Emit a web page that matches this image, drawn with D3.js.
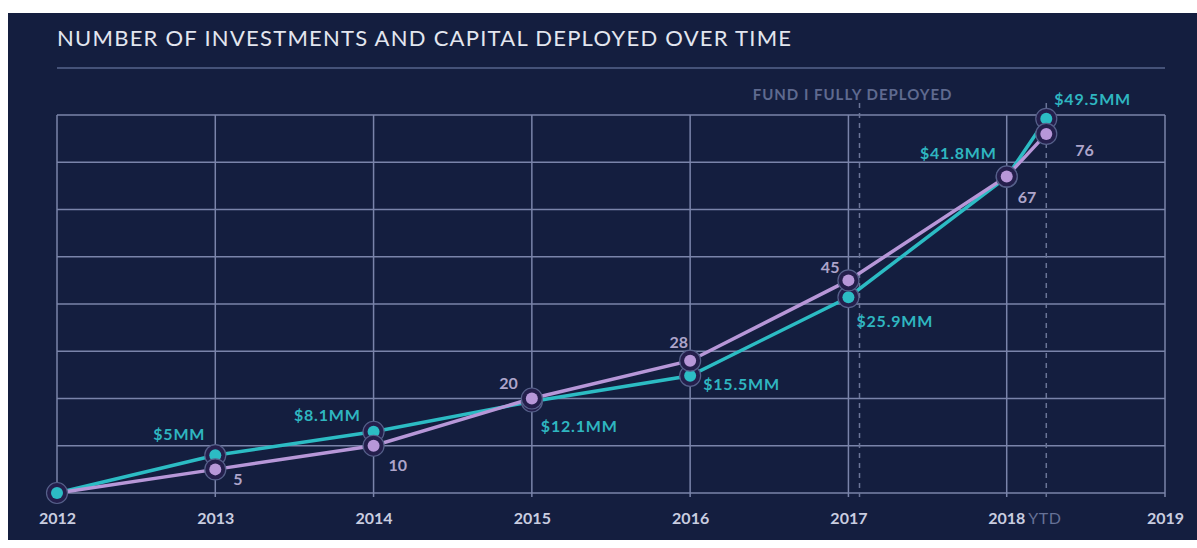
<!DOCTYPE html>
<html>
<head>
<meta charset="utf-8">
<script src="https://cdn.jsdelivr.net/npm/d3@7"></script>
<style>
  html, body { margin: 0; padding: 0; background: #fff; }
  svg { display: block; font-family: Lato, "Open Sans", sans-serif; }
</style>
</head>
<body>
<svg width="1197" height="548"></svg>
<script>
// data
const years = [2012, 2013, 2014, 2015, 2016, 2017, 2018, 2018.25]
const investments = [0, 5, 10, 20, 28, 45, 67, 76]
const capital = [0, 5, 8.1, 12.1, 15.5, 25.9, 41.8, 49.5]
const investmentLabels = ['', '5', '10', '20', '28', '45', '67', '76']
const capitalLabels = ['', '$5MM', '$8.1MM', '$12.1MM', '$15.5MM', '$25.9MM', '$41.8MM', '$49.5MM']
const yearTicks = [2012, 2013, 2014, 2015, 2016, 2017, 2018, 2019]
const fundDeployed = 2017.07

// label placement (anchor, dx, dy) per point
const capPos = [null, ['end', -10, -15], ['end', -13, -11], ['start', 9, 30], ['start', 13, 14], ['start', 8, 30], ['end', -10, -18], ['start', 8, -14]]
const invPos = [null, ['start', 18, 16], ['start', 15, 25], ['end', -14, -10], ['end', -2, -13], ['end', -9, -7], ['start', 11, 27], ['start', 29, 22]]

const svg = d3.select('svg')
const width = +svg.attr('width')
const height = +svg.attr('height')

const teal = '#2cbcc4'
const lilac = '#b797d8'

svg.append('rect')
  .attr('x', 8).attr('y', 13)
  .attr('width', width - 8).attr('height', 527)
  .attr('fill', '#141e3f')

const margin = {top: 115, left: 57, right: 32, bottom: 55}
const innerWidth = width - margin.left - margin.right
const innerHeight = height - margin.top - margin.bottom

const xScale = d3.scaleLinear()
  .domain([2012, 2019])
  .range([0, innerWidth])

const yScale = d3.scaleLinear()
  .domain([0, 80])
  .range([innerHeight, 0])

const cScale = d3.scaleLinear()
  .domain([0, 50])
  .range([innerHeight, 0])

const g = svg.append('g')
  .attr('transform', `translate(${margin.left}, ${margin.top})`)

// title
svg.append('text')
  .attr('x', margin.left).attr('y', 46)
  .attr('fill', '#e3e6ef')
  .style('font-size', '22px')
  .style('letter-spacing', '1.25px')
  .text('NUMBER OF INVESTMENTS AND CAPITAL DEPLOYED OVER TIME')

svg.append('line')
  .attr('x1', margin.left).attr('x2', margin.left + innerWidth)
  .attr('y1', 68).attr('y2', 68)
  .attr('stroke', '#56648c').attr('stroke-width', 1.5)

// grid
g.selectAll('.hgrid').data(yScale.ticks(8))
  .enter().append('line')
  .attr('x1', 0).attr('x2', innerWidth)
  .attr('y1', d => yScale(d)).attr('y2', d => yScale(d))
  .attr('stroke', '#7a84aa').attr('stroke-width', 1.5)

g.selectAll('.vgrid').data(yearTicks)
  .enter().append('line')
  .attr('x1', d => xScale(d)).attr('x2', d => xScale(d))
  .attr('y1', 0).attr('y2', innerHeight + 4)
  .attr('stroke', '#7a84aa').attr('stroke-width', 1.5)

// dashed markers
g.selectAll('.dash').data([fundDeployed, years[years.length - 1]])
  .enter().append('line')
  .attr('x1', d => xScale(d)).attr('x2', d => xScale(d))
  .attr('y1', -12).attr('y2', innerHeight + 4)
  .attr('stroke', '#6a7497').attr('stroke-width', 1.5)
  .attr('stroke-dasharray', '5 5')

svg.append('text')
  .attr('x', margin.left + xScale(fundDeployed) + 93)
  .attr('y', 100)
  .attr('text-anchor', 'end')
  .attr('fill', '#5f6a8f')
  .style('font-size', '15px')
  .style('font-weight', 700)
  .style('letter-spacing', '1px')
  .text('FUND I FULLY DEPLOYED')

// x axis labels
const xAxis = d3.axisBottom(xScale)
  .tickValues(yearTicks)
  .tickFormat(d3.format('d'))
  .tickSize(0)
  .tickPadding(20)

const ax = g.append('g').call(xAxis)
  .attr('transform', `translate(0, ${innerHeight})`)
ax.select('.domain').remove()
ax.selectAll('text')
  .attr('fill', '#c9cde0')
  .style('font-family', 'Lato, sans-serif')
  .style('font-size', '16px')
  .style('font-weight', 700)
ax.selectAll('.tick').filter(d => d === 2018).select('text')
  .attr('text-anchor', 'start')
  .attr('dx', -19)
  .append('tspan')
  .attr('dx', 3)
  .attr('fill', '#667196')
  .style('font-weight', 400)
  .style('letter-spacing', '0.5px')
  .text('YTD')

// lines
const capLine = d3.line()
  .x((d, i) => xScale(years[i]))
  .y(d => cScale(d))
const invLine = d3.line()
  .x((d, i) => xScale(years[i]))
  .y(d => yScale(d))

g.append('path').datum(capital)
  .attr('d', capLine)
  .attr('fill', 'none').attr('stroke', teal).attr('stroke-width', 3.5)
g.append('path').datum(investments)
  .attr('d', invLine)
  .attr('fill', 'none').attr('stroke', lilac).attr('stroke-width', 3.5)

// points
const drawPoints = (values, scale, color, skipFirst) => {
  const pts = g.append('g').selectAll('g')
    .data(values.map((v, i) => ({v, i})).filter(d => !(skipFirst && d.i === 0)))
    .enter().append('g')
    .attr('transform', d => `translate(${xScale(years[d.i])}, ${scale(d.v)})`)
  pts.append('circle').attr('r', 10.5)
    .attr('fill', '#241f4c').attr('stroke', '#56608a').attr('stroke-width', 1.2)
  pts.append('circle').attr('r', 6).attr('fill', color)
}
drawPoints(capital, cScale, teal, false)
drawPoints(investments, yScale, lilac, true)

// value labels
const drawLabels = (values, scale, texts, pos, color, spacing) => {
  g.append('g').selectAll('text')
    .data(values.map((v, i) => ({v, i})).filter(d => pos[d.i]))
    .enter().append('text')
    .attr('x', d => xScale(years[d.i]) + pos[d.i][1])
    .attr('y', d => scale(d.v) + pos[d.i][2])
    .attr('text-anchor', d => pos[d.i][0])
    .attr('fill', color)
    .style('font-size', '16px')
    .style('font-weight', 700)
    .style('letter-spacing', spacing)
    .text(d => texts[d.i])
}
drawLabels(capital, cScale, capitalLabels, capPos, '#2fb6c0', '0.8px')
drawLabels(investments, yScale, investmentLabels, invPos, '#aea5ca', '0px')
</script>
</body>
</html>
